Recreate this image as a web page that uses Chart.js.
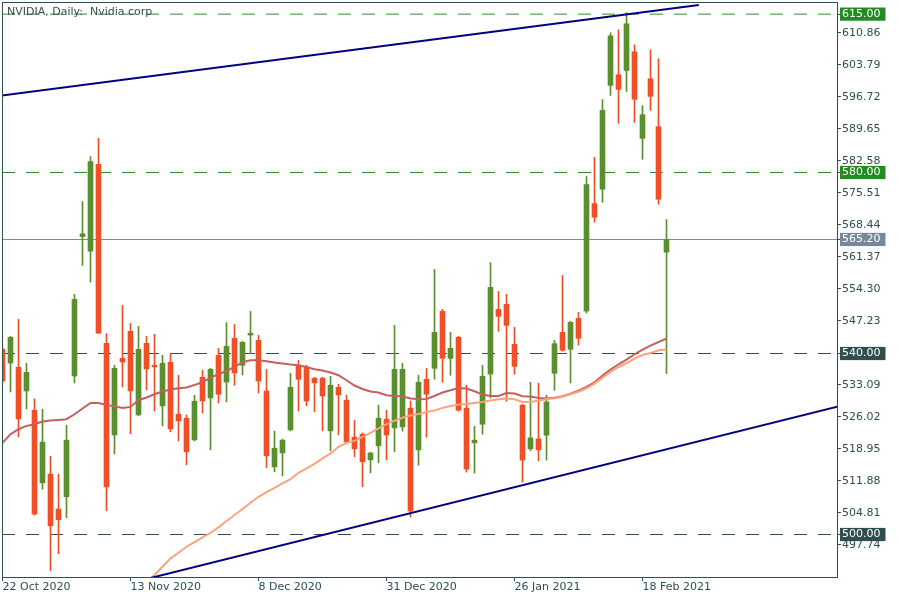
<!DOCTYPE html>
<html>
<head>
<meta charset="utf-8">
<script src="https://cdn.jsdelivr.net/npm/chart.js@4.4.0/dist/chart.umd.min.js"></script>
<style>
  html, body { margin: 0; padding: 0; background: #fff; }
  canvas { display: block; }
</style>
</head>
<body>
<canvas id="chart" width="900" height="600"></canvas>
<script>
const chartTitle = 'NVIDIA, Daily:  Nvidia corp';

// trading days (categories)
const dates = [
  '22 Oct 2020','23 Oct 2020','26 Oct 2020','27 Oct 2020','28 Oct 2020','29 Oct 2020','30 Oct 2020',
  '2 Nov 2020','3 Nov 2020','4 Nov 2020','5 Nov 2020','6 Nov 2020','9 Nov 2020','10 Nov 2020','11 Nov 2020','12 Nov 2020',
  '13 Nov 2020','16 Nov 2020','17 Nov 2020','18 Nov 2020','19 Nov 2020','20 Nov 2020','23 Nov 2020','24 Nov 2020','25 Nov 2020',
  '27 Nov 2020','30 Nov 2020',
  '1 Dec 2020','2 Dec 2020','3 Dec 2020','4 Dec 2020','7 Dec 2020','8 Dec 2020','9 Dec 2020','10 Dec 2020','11 Dec 2020',
  '14 Dec 2020','15 Dec 2020','16 Dec 2020','17 Dec 2020','18 Dec 2020','21 Dec 2020','22 Dec 2020','23 Dec 2020','24 Dec 2020',
  '28 Dec 2020','29 Dec 2020','30 Dec 2020','31 Dec 2020',
  '4 Jan 2021','5 Jan 2021','6 Jan 2021','7 Jan 2021','8 Jan 2021','11 Jan 2021','12 Jan 2021','13 Jan 2021','14 Jan 2021',
  '15 Jan 2021','19 Jan 2021','20 Jan 2021','21 Jan 2021','22 Jan 2021','25 Jan 2021','26 Jan 2021','27 Jan 2021','28 Jan 2021',
  '29 Jan 2021',
  '1 Feb 2021','2 Feb 2021','3 Feb 2021','4 Feb 2021','5 Feb 2021','8 Feb 2021','9 Feb 2021','10 Feb 2021','11 Feb 2021',
  '12 Feb 2021','16 Feb 2021','17 Feb 2021','18 Feb 2021','19 Feb 2021','22 Feb 2021','23 Feb 2021'
];

const open = [
  540.93,537.9,536.96,531.73,527.47,511.42,513.35,505.62,508.34,535.04,
  565.85,562.62,581.81,542.25,522.01,538.94,544.9,526.43,542.25,537.4,
  528.42,538.06,526.58,525.7,520.91,534.75,530.18,539.6,533.71,543.35,
  537.4,544.08,542.91,531.73,514.96,518.05,523.12,537.4,536.96,534.53,
  534.53,522.9,532.54,529.67,521.51,522.17,516.5,519.6,525.48,523.56,
  523.78,527.91,518.71,534.31,536.73,549.31,538.94,543.57,527.91,520.25,
  524.38,535.47,549.75,550.86,542.03,528.57,518.93,521.13,521.95,535.63,
  544.68,540.93,547.77,549.38,573.14,576.3,599.25,601.6,602.55,606.68,
  587.55,600.72,590.13,562.4
];
const high = [
  541.5,543.8,547.55,537.84,529.96,527.7,517.32,513.35,524.16,553.06,
  573.58,583.51,587.55,544.39,537.4,550.64,546.66,545.99,543.8,544.24,
  539.6,540.05,535.19,526.43,530.78,536.29,536.73,541.15,546.82,546.44,
  542.7,549.31,544.02,536.51,522.83,521.07,535.63,538.5,537.4,534.75,
  534.75,534.97,533.2,530.78,525.26,522.46,518.2,528.57,527.47,546.22,
  537.84,529.52,535.19,536.73,558.58,549.75,544.68,543.8,532.98,523.94,
  537.4,560.1,553.72,553.06,545.78,528.79,533.65,533.43,530.78,542.91,
  557.26,547.1,549.09,579.1,583.36,596.09,610.87,611.54,615.29,608.23,
  594.77,607.12,605.14,569.6
];
const low = [
  533.5,531.5,521.58,527.75,504.3,510.0,492.01,495.76,503.7,533.49,
  559.46,555.78,544.45,505.25,517.83,532.61,522.24,526.21,531.95,527.31,
  524.0,522.68,520.69,515.4,520.69,526.87,518.71,529.08,529.3,532.98,
  535.26,539.98,531.29,514.74,513.85,512.97,522.9,527.31,528.42,527.09,
  522.9,518.49,522.02,520.2,517.16,510.54,513.63,515.84,516.5,518.27,
  522.84,503.85,515.33,521.51,534.31,533.65,535.19,527.25,513.79,513.57,
  522.17,530.17,544.9,529.45,535.41,511.58,518.49,516.28,516.44,531.88,
  540.49,533.49,541.87,548.94,569.02,573.43,597.04,590.86,597.92,591.08,
  582.92,593.73,572.99,535.56
];
const close = [
  533.93,543.58,525.55,535.85,504.52,520.41,501.94,503.26,520.85,551.96,
  566.45,582.41,544.52,510.54,536.73,538.12,531.73,540.93,536.58,537.02,
  537.84,523.34,525.11,518.27,529.45,529.52,536.51,531.0,541.59,535.7,
  542.47,544.46,533.93,517.38,519.08,520.85,532.54,534.31,529.52,533.49,
  530.62,532.98,530.85,520.47,518.93,516.06,518.01,525.7,522.02,536.51,
  536.51,505.17,533.65,531.0,544.68,538.94,541.15,527.47,514.45,520.85,
  534.97,554.61,548.21,546.22,537.18,516.44,521.36,518.71,529.3,542.18,
  540.71,546.88,543.36,577.33,570.12,593.73,610.21,598.36,612.86,596.16,
  592.78,596.82,574.09,565.2
];

// moving averages
const maFast = [
  520.25,522.17,523.27,524.0,524.38,524.97,525.19,525.33,525.48,526.58,
  527.84,529.08,529.08,528.64,528.35,527.98,528.2,529.68,530.27,531.0,
  531.59,532.03,532.32,532.48,533.05,533.65,534.68,535.41,536.14,537.02,
  538.06,538.5,538.5,538.28,537.99,537.77,537.55,537.4,537.02,536.51,
  536.23,535.79,535.19,534.09,532.92,532.17,531.59,531.37,530.78,530.62,
  530.56,530.05,529.89,529.96,530.62,531.37,531.88,532.39,532.26,531.66,
  530.93,530.62,530.62,531.28,531.15,530.56,530.49,530.18,530.05,530.23,
  530.56,531.11,531.77,532.61,533.65,535.13,536.45,537.62,538.66,539.83,
  540.86,541.75,542.54,543.29
];
const maSlow = [
  null,null,null,null,null,null,null,null,null,null,
  null,null,null,null,null,null,null,null,489.5,491.06,
  492.89,494.74,495.98,497.3,498.34,499.38,500.39,501.58,502.97,504.3,
  505.62,507.01,508.34,509.37,510.32,511.29,512.24,513.63,514.6,515.62,
  516.81,517.91,519.37,520.25,520.69,521.58,522.46,523.43,524.38,525.15,
  525.81,526.3,526.63,527.09,527.4,527.98,528.42,528.73,528.86,529.08,
  529.3,529.61,529.89,530.05,529.89,529.3,529.3,529.61,529.89,530.12,
  530.45,531.0,531.55,532.32,533.36,534.68,535.92,537.02,537.9,538.87,
  539.67,540.11,540.71,540.86
];

// channel lines (bar index, price)
const upperTrend = [{x: -0.34, y: 596.97}, {x: 87.04, y: 617.02}];
const lowerTrend = [{x: 15, y: 488.84}, {x: 105, y: 528.55}];

// axis labels and price levels
const tickDates = ['22 Oct 2020','13 Nov 2020','8 Dec 2020','31 Dec 2020','26 Jan 2021','18 Feb 2021'];
const yTicks = [497.74,504.81,511.88,518.95,526.02,533.09,547.23,554.30,561.37,568.44,575.51,582.58,589.65,596.72,603.79,610.86];
const levels = [615, 580, 540, 500];
const lastPrice = 565.20;

const UP = '#5a8f2e', DOWN = '#f24f26', SLATE = '#2f4f4f', GREEN = '#2e8b2e', GREEN_BOX = '#228b22', GREY = '#778899';
const levelColors = [GREEN, GREEN, SLATE, SLATE];
const boxColors = {615: GREEN_BOX, 580: GREEN_BOX, 540: SLATE, 500: SLATE, 565.2: GREY};
const X_MIN = -0.0625, X_MAX = 104.3125;
const Y_MIN = 490.61, Y_MAX = 617.68;

Chart.defaults.font.family = '"DejaVu Sans", sans-serif';
Chart.defaults.font.size = 11;

const candleColor = i => close[i] >= open[i] ? UP : DOWN;
const wicks = dates.map((d, i) => ({x: i, y: [low[i], high[i]]}));
const bodies = dates.map((d, i) => ({x: i, y: [open[i], close[i]]}));
const asLine = arr => arr.map((v, i) => ({x: i, y: v}));
const flat = v => [{x: X_MIN, y: v}, {x: X_MAX, y: v}];

const lineDefaults = {type: 'line', pointRadius: 0, tension: 0, fill: false};

const datasets = [
  ...levels.map((v, k) => ({...lineDefaults, data: flat(v), borderColor: levelColors[k], borderWidth: 1, borderDash: [13, 11], order: 10})),
  {...lineDefaults, data: flat(lastPrice), borderColor: GREY, borderWidth: 1, order: 10},
  {type: 'bar', data: wicks, backgroundColor: c => candleColor(c.dataIndex), barThickness: 1, grouped: false, order: 5},
  {type: 'bar', data: bodies, backgroundColor: c => candleColor(c.dataIndex), barThickness: 5, minBarLength: 1, grouped: false, order: 4},
  {...lineDefaults, data: asLine(maSlow), borderColor: '#fca37c', borderWidth: 2, order: 2},
  {...lineDefaults, data: asLine(maFast), borderColor: '#c85f5f', borderWidth: 2, order: 2},
  {...lineDefaults, data: upperTrend, borderColor: '#000080', borderWidth: 2, order: 1},
  {...lineDefaults, data: lowerTrend, borderColor: '#000080', borderWidth: 2, order: 1}
];

const isBox = v => boxColors[v] !== undefined;

const framePlugin = {
  id: 'frame',
  afterDraw(chart) {
    const {ctx, chartArea: a} = chart;
    ctx.save();
    ctx.strokeStyle = SLATE;
    ctx.lineWidth = 1;
    ctx.strokeRect(a.left + 0.5, a.top + 0.5, a.right - a.left, a.bottom - a.top);
    ctx.font = '11px "DejaVu Sans"';
    ctx.fillStyle = SLATE;
    ctx.textBaseline = 'middle';
    ctx.textAlign = 'left';
    ctx.fillText(chartTitle, a.left + 5, a.top + 10.5);
    ctx.restore();
  }
};

new Chart(document.getElementById('chart').getContext('2d'), {
  type: 'bar',
  data: {datasets},
  options: {
    responsive: false,
    animation: false,
    events: [],
    layout: {padding: {left: 2, top: 2, right: 0, bottom: 0}},
    plugins: {legend: {display: false}, tooltip: {enabled: false}},
    scales: {
      x: {
        type: 'linear',
        min: X_MIN,
        max: X_MAX,
        offset: false,
        border: {display: false},
        grid: {drawOnChartArea: false, drawTicks: true, tickLength: 4, color: SLATE, offset: false},
        afterBuildTicks: s => { s.ticks = tickDates.map(d => ({value: dates.indexOf(d)})); },
        afterFit: s => { s.height = 23; s.paddingLeft = 0; s.paddingRight = 0; },
        ticks: {
          autoSkip: false,
          maxRotation: 0,
          align: 'start',
          padding: 0,
          color: SLATE,
          callback: v => dates[v]
        }
      },
      y: {
        type: 'linear',
        position: 'right',
        min: Y_MIN,
        max: Y_MAX,
        border: {display: false},
        grid: {drawOnChartArea: false, drawTicks: true, tickLength: 4, color: SLATE},
        afterBuildTicks: s => {
          s.ticks = [...yTicks, lastPrice, ...levels].map(v => ({value: v}));
        },
        afterFit: s => { s.width = 63; s.paddingTop = 0; s.paddingBottom = 0; },
        ticks: {
          autoSkip: false,
          padding: 1,
          color: c => isBox(c.tick.value) ? '#ffffff' : SLATE,
          showLabelBackdrop: c => isBox(c.tick.value),
          backdropColor: c => boxColors[c.tick.value] || 'rgba(0,0,0,0)',
          backdropPadding: {left: 2, right: 5, top: 0, bottom: 0},
          callback: v => v.toFixed(2)
        }
      }
    }
  },
  plugins: [framePlugin]
});
</script>
</body>
</html>
